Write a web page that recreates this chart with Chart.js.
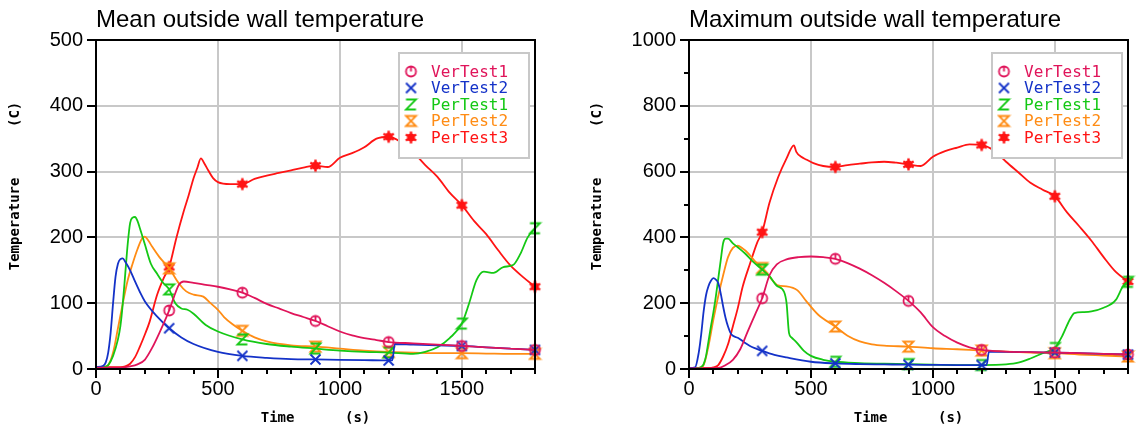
<!DOCTYPE html>
<html>
<head>
<meta charset="utf-8">
<script src="https://cdn.jsdelivr.net/npm/chart.js@4.4.1/dist/chart.umd.min.js"></script>
<style>
html,body{margin:0;padding:0;background:#fff;}
body{width:1136px;height:432px;position:relative;overflow:hidden;}
canvas{position:absolute;top:0;}
</style>
</head>
<body>
<canvas id="meanChart" width="568" height="432" style="left:0"></canvas>
<canvas id="maxChart" width="568" height="432" style="left:568px"></canvas>
<script>
// ---------- tick labels ----------
const timeTickLabels = [0, 500, 1000, 1500];
const meanTempTickLabels = [0, 100, 200, 300, 400, 500];
const maxTempTickLabels = [0, 200, 400, 600, 800, 1000];
const markerTimes = [300, 600, 900, 1200, 1500, 1800];
const seriesNames = ['VerTest1', 'VerTest2', 'PerTest1', 'PerTest2', 'PerTest3'];

// ---------- Mean outside wall temperature ----------
const meanVerTest1T = [0,100,140,170,200,230,260,290,300,320,340,360,400,450,500,550,600,650,700,750,800,850,900,950,1000,1050,1100,1150,1200,1300,1400,1500,1600,1700,1800];
const meanVerTest1V = [2,2,4,7,14,32,55,80,89,110,128,133,131,128,125,121,116,108,99,92,85,79,73,65,57,51,47,44,41,39,37,35,33,31,29];

const meanVerTest2T = [0,30,40,50,60,70,80,90,100,110,120,140,160,180,200,250,300,350,400,500,600,700,800,900,1000,1100,1200,1215,1225,1300,1400,1500,1600,1700,1800];
const meanVerTest2V = [3,5,10,25,55,100,140,160,167,168,163,150,133,117,103,80,62,48,38,26,20,17,15,14.5,14,13.5,13,13,38,37,36,35,33,31,29];

const meanPerTest1T = [0,30,50,70,90,100,110,120,130,140,150,160,170,180,200,225,250,275,300,325,350,375,400,450,500,600,700,800,900,1000,1100,1200,1300,1350,1400,1450,1500,1530,1560,1590,1630,1670,1710,1740,1770,1800];
const meanPerTest1V = [2,3,6,20,45,65,100,145,190,222,230,231,225,214,190,160,145,131,121,100,92,90,84,67,57,45,38,34,31,28,26,25,23,26,33,47,69,100,135,148,146,155,158,175,200,214];

const meanPerTest2T = [0,30,50,70,90,110,130,150,170,190,200,215,230,260,300,340,370,400,440,470,500,525,560,600,650,700,800,900,1000,1100,1200,1300,1400,1500,1600,1700,1800];
const meanPerTest2V = [2,3,6,25,62,100,135,160,182,199,201,195,186,170,153,130,118,113,110,100,90,79,68,58,48,42,36,34,31,28,26,25,24,24,23.5,23,23];

const meanPerTest3T = [0,100,120,140,160,180,200,220,250,280,300,330,360,380,400,415,430,445,460,480,500,550,600,650,700,750,800,850,900,950,1000,1050,1100,1150,1200,1250,1300,1350,1400,1450,1500,1550,1600,1650,1700,1750,1800];
const meanPerTest3V = [3,3,4,8,18,34,52,72,112,140,155,200,240,264,290,305,320,312,302,290,284,281,281,289,294,298,302,306,309,307,321,328,337,350,353,345,330,310,292,268,249,225,205,180,157,140,125];

// ---------- Maximum outside wall temperature ----------
const maxVerTest1T = [0,120,150,180,210,240,270,300,330,360,400,450,500,550,600,650,700,750,800,850,900,950,1000,1050,1100,1150,1200,1300,1400,1500,1600,1700,1800];
const maxVerTest1V = [2,3,12,28,60,113,164,215,285,318,333,340,342,340,335,322,305,285,262,236,207,172,127,100,80,66,58,53,51,50,48,46,44];

const maxVerTest2T = [0,25,40,50,60,70,80,90,100,110,120,130,140,150,160,170,180,200,225,250,275,300,350,400,500,600,700,800,900,1000,1100,1200,1220,1230,1300,1400,1500,1600,1700,1800];
const maxVerTest2V = [3,5,50,105,175,225,252,268,276,272,261,230,190,155,129,110,101,95,82,70,62,55,43,35,22,17,15,14,13,12.5,12,12,12,53,52,51,50,48,46,44];

const maxPerTest1T = [0,40,50,60,70,80,90,100,110,120,130,140,150,160,180,200,230,260,300,330,360,390,400,410,420,440,470,500,550,600,700,800,900,1000,1100,1200,1300,1350,1400,1450,1500,1530,1560,1580,1620,1650,1700,1750,1780,1800];
const maxPerTest1V = [2,3,6,15,40,85,130,172,220,275,330,383,396,396,382,370,351,328,302,282,253,234,200,110,96,82,56,40,28,22,18,16,15,13,12,12,14,19,32,48,64,100,148,170,173,175,186,210,252,265];

const maxPerTest2T = [0,40,60,80,100,120,140,160,180,200,220,240,270,300,330,365,400,445,480,530,600,650,700,750,800,900,1000,1100,1200,1300,1400,1500,1600,1700,1800];
const maxPerTest2V = [2,3,12,70,150,222,285,340,368,375,366,354,328,307,281,254,251,239,207,165,129,101,84,75,71,68,63,60,56,53,50,48,44,41,38];

const maxPerTest3T = [0,80,100,120,140,160,180,200,220,250,280,300,330,365,400,430,440,460,480,510,550,600,650,700,750,800,850,900,950,1000,1050,1100,1150,1200,1250,1300,1350,1400,1450,1500,1550,1600,1650,1700,1750,1800];
const maxPerTest3V = [2,3,5,12,38,75,130,185,250,320,385,416,505,582,640,680,660,645,637,626,617,614,620,624,628,630,627,622,617,645,662,673,683,681,664,630,598,566,545,525,476,434,390,340,295,266];

// ---------- styles ----------
const seriesColors = ['#e0145a', '#1432c8', '#14c814', '#ff8c14', '#ff1414'];
const markerShapes = ['powerO', 'x', 'z', 'hourglass', 'star'];

function makeMarker(shape, color) {
  const c = document.createElement('canvas');
  c.width = 15; c.height = 15;
  const g = c.getContext('2d');
  const m = 7.5;
  g.strokeStyle = color; g.fillStyle = color; g.lineWidth = 1.8;
  g.beginPath();
  if (shape === 'powerO') {
    g.arc(m, m, 5, 0, Math.PI * 2); g.moveTo(m, m - 5); g.lineTo(m, m); g.stroke();
  } else if (shape === 'x') {
    g.moveTo(2.5, 2.5); g.lineTo(12.5, 12.5); g.moveTo(12.5, 2.5); g.lineTo(2.5, 12.5); g.stroke();
  } else if (shape === 'z') {
    g.moveTo(2.5, 2.5); g.lineTo(12.5, 2.5); g.lineTo(2.5, 12.5); g.lineTo(12.5, 12.5); g.stroke();
  } else if (shape === 'hourglass') {
    g.moveTo(2.5, 2.5); g.lineTo(12.5, 2.5); g.lineTo(2.5, 12.5); g.lineTo(12.5, 12.5); g.closePath(); g.stroke();
  } else {
    g.arc(m, m, 4, 0, Math.PI * 2); g.fill();
    g.beginPath();
    for (let k = 0; k < 3; k++) {
      const a = Math.PI / 2 + k * Math.PI / 3;
      g.moveTo(m + 6 * Math.cos(a), m + 6 * Math.sin(a));
      g.lineTo(m - 6 * Math.cos(a), m - 6 * Math.sin(a));
    }
    g.lineWidth = 2.4; g.stroke();
  }
  return c;
}
const markers = seriesNames.map((n, i) => makeMarker(markerShapes[i], seriesColors[i]));

function buildDatasets(times, values) {
  return seriesNames.map((name, i) => ({
    label: name,
    data: times[i].map((t, k) => ({ x: t, y: values[i][k] })),
    borderColor: seriesColors[i],
    backgroundColor: seriesColors[i],
    borderWidth: 1.8,
    pointStyle: markers[i],
    pointRadius: ctx => (ctx.raw && markerTimes.includes(ctx.raw.x)) ? 6 : 0,
    pointHoverRadius: 0,
    cubicInterpolationMode: 'monotone',
    fill: false,
    clip: 12
  }));
}

const decor = {
  id: 'decor',
  afterDraw(chart, args, o) {
    const ctx = chart.ctx, a = chart.chartArea, xs = chart.scales.x, ys = chart.scales.y;
    ctx.save();
    // tick marks
    ctx.strokeStyle = '#000'; ctx.lineWidth = 2;
    ctx.beginPath();
    xs.ticks.forEach(t => {
      const px = Math.round(xs.getPixelForValue(t.value));
      const len = timeTickLabels.includes(t.value) ? 9 : 5;
      ctx.moveTo(px, a.bottom); ctx.lineTo(px, a.bottom + len);
    });
    ys.ticks.forEach(t => {
      const py = Math.round(ys.getPixelForValue(t.value));
      const len = o.yLabels.includes(t.value) ? 9 : 5;
      ctx.moveTo(a.left, py); ctx.lineTo(a.left - len, py);
    });
    ctx.stroke();
    // frame
    ctx.strokeRect(a.left, a.top, a.right - a.left, a.bottom - a.top);
    // legend
    const bw = 130, bh = 105;
    const bx = a.right - 6 - bw, by = a.top + 13;
    ctx.fillStyle = '#fff';
    ctx.fillRect(bx, by, bw, bh);
    ctx.strokeStyle = '#c8c8c8'; ctx.lineWidth = 2;
    ctx.strokeRect(bx, by, bw, bh);
    ctx.font = '16px "DejaVu Sans Mono", monospace';
    ctx.textAlign = 'left'; ctx.textBaseline = 'middle';
    chart.data.datasets.forEach((ds, i) => {
      const cy = by + 18.5 + i * 16.5;
      ctx.drawImage(markers[i], bx + 12 - 7.5, cy - 7.5);
      ctx.fillStyle = ds.borderColor;
      ctx.fillText(ds.label, bx + 32, cy + 1);
    });
    // titles
    ctx.fillStyle = '#000';
    ctx.font = '24px "Liberation Sans", Arial, sans-serif';
    ctx.textAlign = 'left'; ctx.textBaseline = 'alphabetic';
    ctx.fillText(o.title, a.left, 27);
    ctx.font = 'bold 14px "DejaVu Sans Mono", monospace';
    ctx.textAlign = 'center'; ctx.textBaseline = 'middle';
    ctx.fillText('Time      (s)', (a.left + a.right) / 2, 418);
    ctx.translate(o.yTitleX, 186);
    ctx.rotate(-Math.PI / 2);
    ctx.fillText('Temperature      (C)', 0, 0);
    ctx.restore();
  }
};

function makeChart(id, cfg) {
  const tickFont = { family: '"Liberation Sans", Arial, sans-serif', size: 20 };
  return new Chart(document.getElementById(id), {
    type: 'line',
    data: { datasets: buildDatasets(cfg.times, cfg.values) },
    options: {
      responsive: false,
      animation: false,
      events: [],
      layout: { padding: { left: 0, top: cfg.area.top, right: 568 - cfg.area.right, bottom: 0 } },
      plugins: { legend: { display: false }, title: { display: false }, tooltip: { enabled: false }, decor: cfg },
      scales: {
        x: {
          type: 'linear', min: 0, max: 1800,
          afterFit: s => { s.height = 432 - cfg.area.bottom; },
          ticks: {
            stepSize: 100, autoSkip: false, maxRotation: 0, padding: 8, color: '#000', font: tickFont,
            callback: v => timeTickLabels.includes(v) ? String(v) : ''
          },
          grid: {
            drawTicks: false, lineWidth: 2,
            color: c => (c.tick && c.tick.value > 0 && timeTickLabels.includes(c.tick.value)) ? '#c8c8c8' : 'rgba(0,0,0,0)'
          },
          border: { display: false }
        },
        y: {
          type: 'linear', min: 0, max: cfg.yMax,
          afterFit: s => { s.width = cfg.area.left; },
          ticks: {
            stepSize: 100, autoSkip: false, padding: 13, color: '#000', font: tickFont,
            callback: v => cfg.yLabels.includes(v) ? String(v) : ''
          },
          grid: {
            drawTicks: false, lineWidth: 2,
            color: c => (c.tick && c.tick.value > 0 && cfg.yLabels.includes(c.tick.value)) ? '#c8c8c8' : 'rgba(0,0,0,0)'
          },
          border: { display: false }
        }
      }
    },
    plugins: [decor]
  });
}

makeChart('meanChart', {
  title: 'Mean outside wall temperature',
  times: [meanVerTest1T, meanVerTest2T, meanPerTest1T, meanPerTest2T, meanPerTest3T],
  values: [meanVerTest1V, meanVerTest2V, meanPerTest1V, meanPerTest2V, meanPerTest3V],
  yMax: 500, yLabels: meanTempTickLabels,
  area: { left: 96, right: 535, top: 40, bottom: 369 },
  yTitleX: 15
});

makeChart('maxChart', {
  title: 'Maximum outside wall temperature',
  times: [maxVerTest1T, maxVerTest2T, maxPerTest1T, maxPerTest2T, maxPerTest3T],
  values: [maxVerTest1V, maxVerTest2V, maxPerTest1V, maxPerTest2V, maxPerTest3V],
  yMax: 1000, yLabels: maxTempTickLabels,
  area: { left: 121, right: 563, top: 40, bottom: 369 },
  yTitleX: 29
});
</script>
</body>
</html>
